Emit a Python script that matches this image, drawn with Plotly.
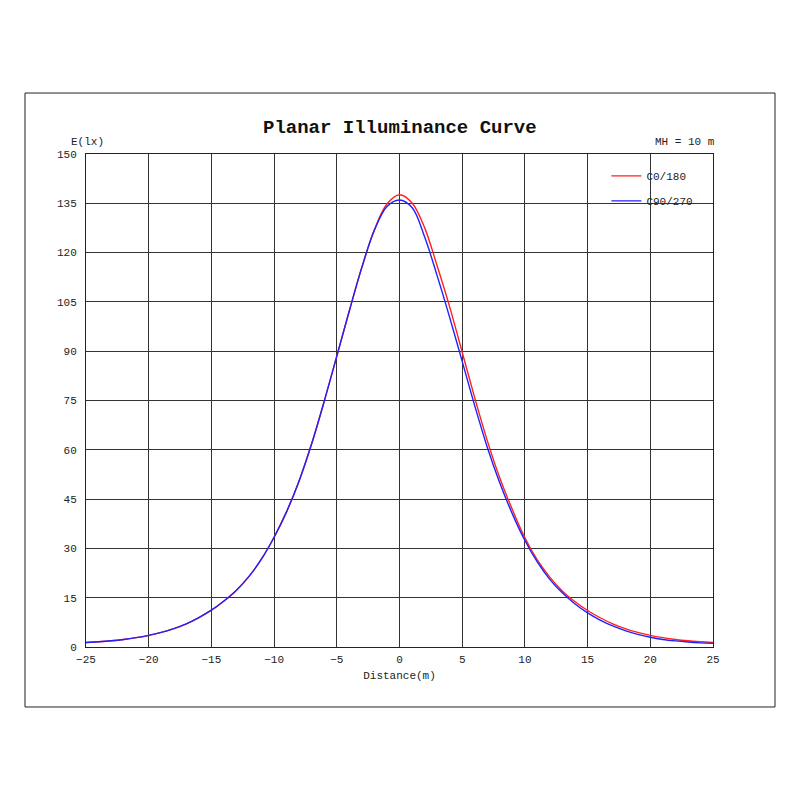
import plotly.graph_objects as go

# distance along the road (m) and planar illuminance (lx)
distance = list(range(-25, 26))

e_c0_180 = [1.35, 1.6, 1.9, 2.3, 2.85, 3.55, 4.45, 5.6, 7.05, 8.95,
            11.2, 14.0, 17.3, 21.5, 26.8, 33.4, 41.2, 50.6, 61.9, 74.8,
            88.5, 102.3, 115.6, 127.0, 134.8,
            137.6,
            135.1, 127.6, 116.0, 103.5, 89.7, 75.8, 62.8, 51.4, 41.8, 33.2,
            26.4, 21.2, 17.0, 13.75, 11.1, 8.9, 7.05, 5.6, 4.45, 3.55,
            2.85, 2.3, 1.9, 1.6, 1.35]

e_c90_270 = [1.35, 1.6, 1.9, 2.3, 2.85, 3.55, 4.45, 5.6, 7.05, 8.95,
             11.2, 14.0, 17.3, 21.5, 26.8, 33.4, 41.2, 50.6, 61.9, 74.8,
             88.5, 102.3, 115.5, 126.8, 134.0,
             136.0,
             133.7, 124.8, 113.0, 100.3, 86.9, 73.4, 60.8, 49.9, 40.5, 32.4,
             25.8, 20.5, 16.4, 13.1, 10.4, 8.2, 6.4, 5.0, 3.85, 2.95,
             2.3, 1.85, 1.5, 1.25, 1.1]

x_ticks = list(range(-25, 30, 5))
y_ticks = list(range(0, 165, 15))

FONT = "Liberation Mono"

fig = go.Figure()
fig.add_trace(go.Scatter(x=distance, y=e_c0_180, name="C0/180", mode="lines",
                         legendgroup="c0",
                         line=dict(color="#ff2020", width=1.4, shape="spline")))
fig.add_trace(go.Scatter(x=distance, y=e_c90_270, name="C90/270", mode="lines",
                         legendgroup="c90",
                         line=dict(color="#2020ff", width=1.4, shape="spline")))

axis_style = dict(showgrid=True, gridcolor="#333333", gridwidth=1,
                  showline=True, linecolor="#222222", linewidth=1, mirror=True,
                  zeroline=False, ticks="", tickfont=dict(family=FONT, size=11, color="#222222"))

fig.update_xaxes(range=[-25, 25], tickvals=x_ticks, ticklabelstandoff=2,
                 title=dict(text="Distance(m)", font=dict(family=FONT, size=11, color="#222222"),
                            standoff=6),
                 **axis_style)
fig.update_yaxes(range=[0, 150], tickvals=y_ticks, ticklabelstandoff=6, **axis_style)

# outer frame around the whole chart
fig.add_shape(type="rect", xref="paper", yref="paper",
              x0=-0.0973, x1=1.0989, y0=-0.1217, y1=1.1237,
              line=dict(color="#222222", width=1))

fig.add_annotation(text="<b>Planar Illuminance Curve</b>", xref="paper", yref="paper",
                   x=0.5, y=1.052, xanchor="center", yanchor="middle", showarrow=False,
                   font=dict(family=FONT, size=19, color="#111111"))
fig.add_annotation(text="E(lx)", xref="paper", yref="paper", x=-0.027, y=1.008,
                   xanchor="left", yanchor="bottom", showarrow=False,
                   font=dict(family=FONT, size=11, color="#222222"))
fig.add_annotation(text="MH = 10 m", xref="paper", yref="paper", x=1.006, y=1.008,
                   xanchor="right", yanchor="bottom", showarrow=False,
                   font=dict(family=FONT, size=11, color="#222222"))

fig.update_layout(
    width=800, height=800,
    margin=dict(l=78, r=95, t=146, b=161),
    paper_bgcolor="white", plot_bgcolor="white",
    showlegend=True,
    legend=dict(x=0.83, y=0.985, xanchor="left", yanchor="top",
                bgcolor="rgba(0,0,0,0)", tracegroupgap=6,
                font=dict(family=FONT, size=11, color="#222222")),
)

fig.write_html("out.html")
